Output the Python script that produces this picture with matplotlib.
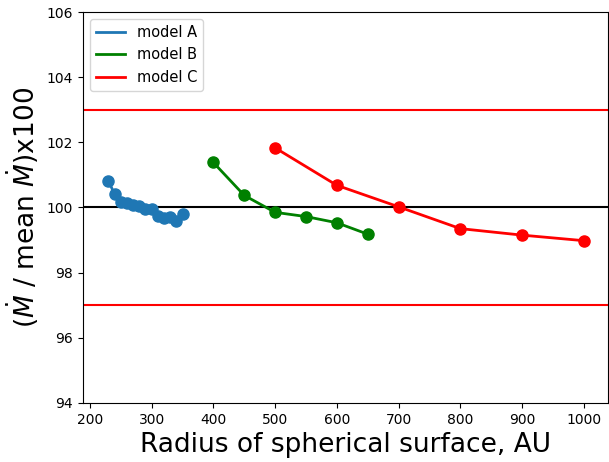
import matplotlib
matplotlib.use("Agg")
import matplotlib.pyplot as plt

# model A
rA = [230, 240, 250, 260, 270, 280, 290, 300, 310, 320, 330, 340, 350]
mA = [100.82, 100.40, 100.18, 100.15, 100.08, 100.05, 99.95, 99.95, 99.75, 99.68, 99.72, 99.58, 99.80]
# model B
rB = [400, 450, 500, 550, 600, 650]
mB = [101.38, 100.37, 99.85, 99.72, 99.53, 99.18]
# model C
rC = [500, 600, 700, 800, 900, 1000]
mC = [101.83, 100.68, 100.02, 99.35, 99.15, 98.98]

fig = plt.figure(figsize=(6.09, 4.62), dpi=100)
ax = fig.add_axes([0.136, 0.128, 0.862, 0.846])

ax.axhline(103, color="red", lw=1.5)
ax.axhline(97, color="red", lw=1.5)
ax.axhline(100, color="black", lw=1.5)

for r, m, c, lab in [(rA, mA, "#1f77b4", "model A"),
                     (rB, mB, "green", "model B"),
                     (rC, mC, "red", "model C")]:
    ax.plot(r, m, "-", color=c, lw=2, label=lab)
    ax.plot(r, m, "o", color=c, ms=8)

ax.set_xlim(188.5, 1039)
ax.set_ylim(94, 106)
ax.set_xticks(range(200, 1001, 100))
ax.set_yticks(range(94, 107, 2))
ax.tick_params(labelsize=10)

ax.set_xlabel("Radius of spherical surface, AU", fontsize=19)
ax.set_ylabel(r"$(\dot{M}$ / mean $\dot{M})$x100", fontsize=19)
ax.legend(loc="upper left", fontsize=10.5)

fig.savefig("out.png", dpi=100)
